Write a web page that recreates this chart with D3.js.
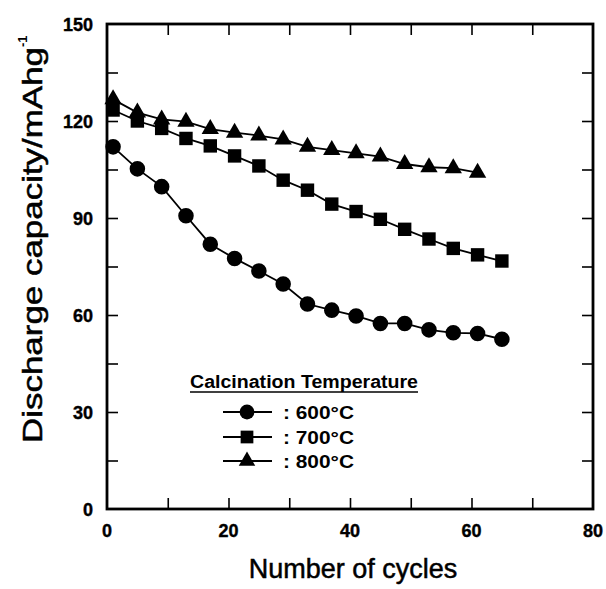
<!DOCTYPE html>
<html>
<head>
<meta charset="utf-8">
<script src="https://cdn.jsdelivr.net/npm/d3@7"></script>
<style>
  html, body { margin: 0; padding: 0; background: #fff; }
  svg { display: block; }
  text { font-family: "Liberation Sans", Arial, sans-serif; fill: #000; }
</style>
</head>
<body>
<svg id="chart" width="606" height="589"></svg>
<script>
// ---- data ----
const cycles600 = [1, 5, 9, 13, 17, 21, 25, 29, 33, 37, 41, 45, 49, 53, 57, 61, 65];
const capacity600 = [112, 105.2, 99.7, 90.7, 81.9, 77.5, 73.6, 69.6, 63.4, 61.5, 59.7, 57.4, 57.4, 55.4, 54.5, 54.3, 52.5];
const cycles700 = [1, 5, 9, 13, 17, 21, 25, 29, 33, 37, 41, 45, 49, 53, 57, 61, 65];
const capacity700 = [123.4, 120, 117.7, 114.6, 112.3, 109.2, 106.1, 101.7, 98.6, 94.3, 92, 89.6, 86.5, 83.5, 80.6, 78.6, 76.7];
const cycles800 = [1, 5, 9, 13, 17, 21, 25, 29, 33, 37, 41, 45, 49, 53, 57, 61];
const capacity800 = [126.7, 122.6, 120.5, 119.8, 117.5, 116.4, 115.5, 114.3, 112, 111, 110, 109, 106.7, 105.7, 105.4, 104];
const seriesNames = ["600°C", "700°C", "800°C"];
const xTickLabels = [0, 20, 40, 60, 80];
const yTickLabels = [0, 30, 60, 90, 120, 150];
const xMinorTicks = [10, 20, 30, 40, 50, 60, 70];
const yMinorTicks = [15, 30, 45, 60, 75, 90, 105, 120, 135];
const legendTitle = "Calcination Temperature";
const xTitle = "Number of cycles";
const yTitle = "Discharge capacity/mAhg";
const yTitleSup = "-1";

// ---- layout ----
const svg = d3.select("#chart");
const L = 107, R = 593, T = 24, B = 509;
const x = d3.scaleLinear().domain([0, 80]).range([L, R]);
const y = d3.scaleLinear().domain([0, 150]).range([B, T]);

const series = [
  { name: seriesNames[0], xs: cycles600, ys: capacity600, sym: d3.symbolCircle, size: 190 },
  { name: seriesNames[1], xs: cycles700, ys: capacity700, sym: d3.symbolSquare, size: 180 },
  { name: seriesNames[2], xs: cycles800, ys: capacity800, sym: d3.symbolTriangle, size: 130 }
];

// ticks (inward on all four sides)
const tickLen = 11;
const bottomAxis = d3.axisBottom(x).tickValues(xMinorTicks).tickSize(-tickLen).tickFormat("");
const topAxis = d3.axisTop(x).tickValues(xMinorTicks).tickSize(-tickLen).tickFormat("");
const leftAxis = d3.axisLeft(y).tickValues(yMinorTicks).tickSize(-tickLen).tickFormat("");
const rightAxis = d3.axisRight(y).tickValues(yMinorTicks).tickSize(-tickLen).tickFormat("");

function styleAxis(g) {
  g.select(".domain").remove();
  g.selectAll(".tick line").attr("stroke", "#000").attr("stroke-width", 1.6);
}
svg.append("g").attr("transform", `translate(0,${B})`).call(bottomAxis).call(styleAxis);
svg.append("g").attr("transform", `translate(0,${T})`).call(topAxis).call(styleAxis);
svg.append("g").attr("transform", `translate(${L},0)`).call(leftAxis).call(styleAxis);
svg.append("g").attr("transform", `translate(${R},0)`).call(rightAxis).call(styleAxis);

// tick labels
svg.append("g").selectAll("text").data(xTickLabels).join("text")
  .attr("x", d => x(d)).attr("y", 537)
  .attr("text-anchor", "middle")
  .style("font-size", "18px").style("font-weight", "bold")
  .style("stroke", "#000").style("stroke-width", 0.4)
  .text(d => d);
svg.append("g").selectAll("text").data(yTickLabels).join("text")
  .attr("x", 93).attr("y", d => y(d) + 6.5)
  .attr("text-anchor", "end")
  .style("font-size", "18px").style("font-weight", "bold")
  .style("stroke", "#000").style("stroke-width", 0.4)
  .text(d => d);

// frame
svg.append("rect")
  .attr("x", L).attr("y", T).attr("width", R - L).attr("height", B - T)
  .attr("fill", "none").attr("stroke", "#000").attr("stroke-width", 2.8);

// series
const line = d3.line().x(d => x(d[0])).y(d => y(d[1]));
series.forEach(s => {
  const pts = s.xs.map((v, i) => [v, s.ys[i]]);
  svg.append("path").datum(pts)
    .attr("d", line).attr("fill", "none")
    .attr("stroke", "#000").attr("stroke-width", 1.8);
  svg.append("g").selectAll("path").data(pts).join("path")
    .attr("transform", d => `translate(${x(d[0])},${y(d[1])})`)
    .attr("d", d3.symbol().type(s.sym).size(s.size))
    .attr("fill", "#000");
});

// legend
svg.append("text")
  .attr("x", 190).attr("y", 388)
  .attr("textLength", 228).attr("lengthAdjust", "spacingAndGlyphs")
  .style("font-size", "18px").style("font-weight", "bold")
  .text(legendTitle);
svg.append("line")
  .attr("x1", 190).attr("x2", 418).attr("y1", 392).attr("y2", 392)
  .attr("stroke", "#000").attr("stroke-width", 1.4);

const legendRows = [412, 437, 461];
series.forEach((s, i) => {
  const cy = legendRows[i];
  svg.append("line").attr("x1", 223).attr("x2", 272).attr("y1", cy).attr("y2", cy)
    .attr("stroke", "#000").attr("stroke-width", 1.8);
  svg.append("path")
    .attr("transform", `translate(247,${cy})`)
    .attr("d", d3.symbol().type(s.sym).size(s.size * 0.9))
    .attr("fill", "#000");
  svg.append("text")
    .attr("x", 283).attr("y", cy + 6.5)
    .attr("textLength", 71).attr("lengthAdjust", "spacingAndGlyphs")
    .style("font-size", "18px").style("font-weight", "bold")
    .text(": " + s.name);
});

// axis titles
svg.append("text")
  .attr("x", (L + R) / 2 + 3).attr("y", 578)
  .attr("text-anchor", "middle")
  .style("font-size", "27px")
  .style("stroke", "#000").style("stroke-width", 0.5)
  .text(xTitle);

svg.append("text")
  .attr("transform", "translate(42,443) rotate(-90)")
  .attr("textLength", 396).attr("lengthAdjust", "spacingAndGlyphs")
  .style("font-size", "28px")
  .style("stroke", "#000").style("stroke-width", 0.5)
  .text(yTitle);
svg.append("text")
  .attr("transform", "translate(27,47) rotate(-90)")
  .style("font-size", "13px").style("font-weight", "bold")
  .text(yTitleSup);
</script>
</body>
</html>
